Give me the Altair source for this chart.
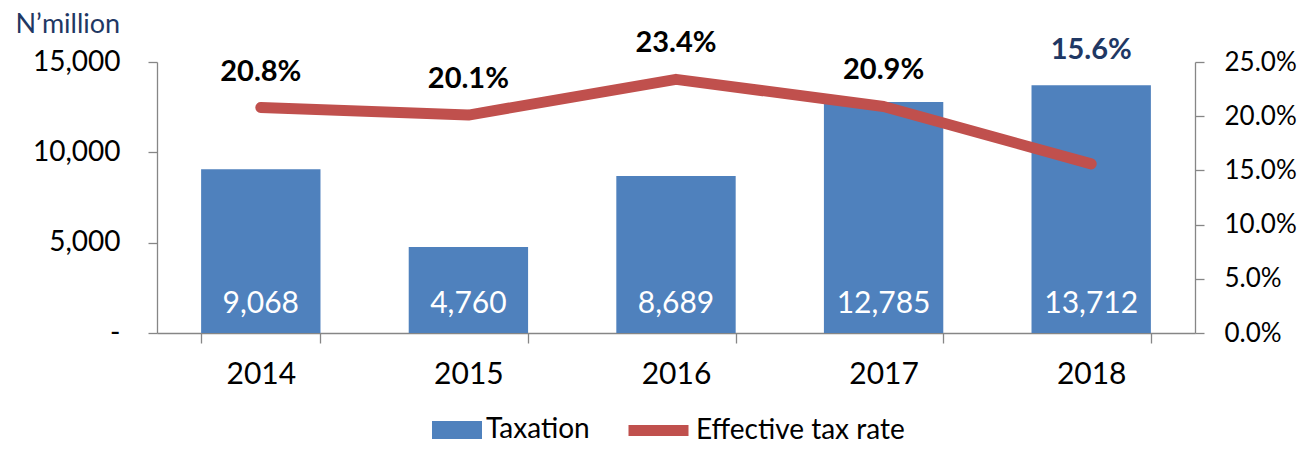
import altair as alt
import pandas as pd

years = ["2014", "2015", "2016", "2017", "2018"]
taxation = [9068, 4760, 8689, 12785, 13712]
rate = [0.208, 0.201, 0.234, 0.209, 0.156]
series_bar = "Taxation"
series_line = "Effective tax rate"

df = pd.DataFrame({"year": years, "taxation": taxation, "rate": rate})
df["s_bar"] = series_bar
df["s_line"] = series_line

FONT = "Lato"
BLUE = "#4F81BD"
RED = "#C0504D"
NAVY = "#1F3864"
GRAY = "#868686"
FS = 28

base = alt.Chart(df)
xscale = alt.Scale(paddingInner=0.425, paddingOuter=0.2125)
x_axis = alt.Axis(labelAngle=0, tickBand="extent", tickSize=10, title=None,
                  labelPadding=16, domainColor=GRAY, tickColor=GRAY,
                  labelFontSize=30, labelColor="#000000",
                  domainWidth=1.3, tickWidth=1.3)
x_enc = alt.X("year:N", scale=xscale, sort=years, title=None, axis=x_axis)

yl_scale = alt.Scale(domain=[0, 15000], nice=False)
yr_scale = alt.Scale(domain=[0, 0.25], nice=False)

yl_axis = alt.Axis(values=[0, 5000, 10000, 15000],
                   labelExpr="datum.value == 0 ? '-' : format(datum.value, ',')",
                   grid=False, tickSize=9, labelPadding=28,
                   domainColor=GRAY, tickColor=GRAY, domainWidth=1.3, tickWidth=1.3,
                   labelFontSize=FS, labelColor="#000000",
                   title="N\u2019million", titleAngle=0, titleAlign="left",
                   titleBaseline="middle", titleX=-142, titleY=-38,
                   titleFontSize=27, titleFontWeight="normal", titleColor=NAVY)
yr_axis = alt.Axis(orient="right", values=[0, 0.05, 0.1, 0.15, 0.2, 0.25], format=".1%",
                   grid=False, tickSize=9, labelPadding=20,
                   domainColor=GRAY, tickColor=GRAY, domainWidth=1.3, tickWidth=1.3,
                   labelFontSize=26, labelColor="#000000", title=None)

legend_bar = alt.Legend(
    title=None, orient="none", legendX=275, legendY=343,
    symbolType="M-1,-0.36H1V0.36H-1Z", symbolSize=2500, symbolStrokeWidth=0,
    labelFontSize=FS, labelColor="#000000", labelOffset=4, padding=0, labelLimit=400)
legend_line = alt.Legend(
    title=None, orient="none", legendX=466, legendY=333,
    symbolType="M-1,0H1", symbolSize=3600, symbolStrokeWidth=11,
    labelFontSize=FS, labelColor="#000000", labelOffset=2, padding=0, labelLimit=400)

bars = base.mark_bar(color=BLUE).encode(
    x=x_enc,
    y=alt.Y("taxation:Q", scale=yl_scale, axis=yl_axis),
    color=alt.Color("s_bar:N", scale=alt.Scale(domain=[series_bar], range=[BLUE]), legend=legend_bar),
)

bar_labels = base.mark_text(color="white", fontSize=30, baseline="middle", dy=-29).encode(
    x=x_enc,
    y=alt.datum(0, scale=yl_scale, axis=yl_axis),
    text=alt.Text("taxation:Q", format=","),
)

last_label = base.transform_filter(alt.datum.year == "2018").mark_text(
    color=NAVY, fontSize=29, fontWeight="bold", baseline="middle", dy=-35).encode(
    x=x_enc,
    y=alt.Y("taxation:Q", scale=yl_scale, axis=yl_axis),
    text=alt.Text("rate:Q", format=".1%"),
)

line = base.mark_line(strokeWidth=11, strokeCap="round", strokeJoin="round").encode(
    x=x_enc,
    y=alt.Y("rate:Q", scale=yr_scale, axis=yr_axis),
    color=alt.Color("s_line:N", scale=alt.Scale(domain=[series_line], range=[RED]), legend=legend_line),
)

rate_labels = base.transform_filter(alt.datum.year != "2018").mark_text(
    color="#000000", fontSize=29, fontWeight="bold", baseline="middle", dy=-36).encode(
    x=x_enc,
    y=alt.Y("rate:Q", scale=yr_scale, axis=yr_axis),
    text=alt.Text("rate:Q", format=".1%"),
)

left = alt.layer(bars, bar_labels, last_label)
right = alt.layer(line, rate_labels)

chart = alt.layer(left, right).resolve_scale(y="independent", color="independent").properties(
    width=1038, height=271,
    autosize=alt.AutoSizeParams(type="none"),
    padding={"left": 149, "top": 54, "right": 104, "bottom": 110},
).configure(font=FONT).configure_view(stroke=None)

chart.save("out.html", embed_options={"renderer": "svg", "actions": False})
